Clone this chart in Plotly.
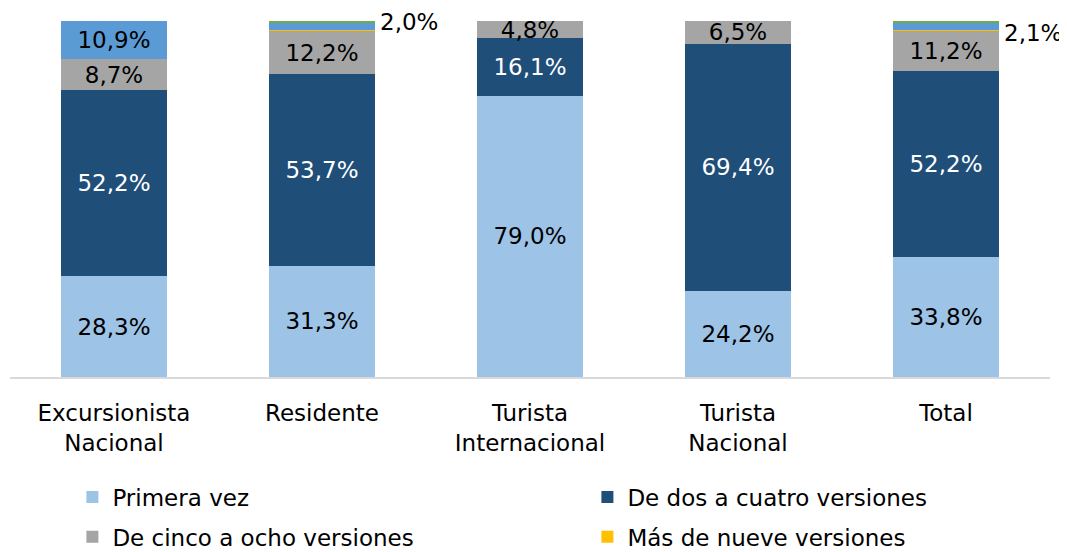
import plotly.graph_objects as go

categories = ["Excursionista<br>Nacional", "Residente", "Turista<br>Internacional", "Turista<br>Nacional", "Total"]
primera_vez = [28.3, 31.3, 79.0, 24.2, 33.8]
dos_a_cuatro = [52.2, 53.7, 16.1, 69.4, 52.2]
cinco_a_ocho = [8.7, 12.2, 4.8, 6.5, 11.2]
mas_de_nueve = [0.0, 0.3, 0.0, 0.0, 0.2]
otra_azul = [10.9, 2.0, 0.0, 0.0, 2.1]
otra_verde = [0.0, 0.5, 0.0, 0.0, 0.5]

FONT = "DejaVu Sans"
FS = 23

def fmt(v):
    return f"{v:.1f}".replace(".", ",") + "%"

def labels(vals, minv=3.0):
    return [fmt(v) if v >= minv else "" for v in vals]

fig = go.Figure()
series = [
    ("Primera vez", primera_vez, "#9DC3E6", "black", True, labels(primera_vez), "legend"),
    ("De dos a cuatro versiones", dos_a_cuatro, "#1F4E79", "white", True, labels(dos_a_cuatro), "legend"),
    ("De cinco a ocho versiones", cinco_a_ocho, "#A5A5A5", "black", True, labels(cinco_a_ocho), "legend2"),
    ("Más de nueve versiones", mas_de_nueve, "#FFC000", "black", True, labels(mas_de_nueve), "legend2"),
    ("Otras versiones", otra_azul, "#5B9BD5", "black", False, labels(otra_azul, 5.0), "legend"),
    ("No sabe", otra_verde, "#70AD47", "black", False, labels(otra_verde), "legend"),
]
for name, vals, color, tcol, show, txt, leg in series:
    fig.add_trace(go.Bar(
        x=categories, y=vals, name=name, marker_color=color,
        marker_line_width=0, showlegend=show, legend=leg,
        text=txt, textposition="inside", insidetextanchor="middle",
        textangle=0, constraintext="none",
        textfont=dict(family=FONT, size=FS, color=tcol),
        hoverinfo="skip",
    ))

# outside labels for the small medium-blue segments
totals = [a + b + c + d + e + f for a, b, c, d, e, f in zip(primera_vez, dos_a_cuatro, cinco_a_ocho, mas_de_nueve, otra_azul, otra_verde)]
for i, v in enumerate(otra_azul):
    if 0 < v < 5.0:
        fig.add_annotation(x=categories[i], y=totals[i], text=fmt(v), showarrow=False,
                           xanchor="left", yanchor="middle",
                           xshift=56, yshift=-1 if i == 1 else -12,
                           font=dict(family=FONT, size=FS, color="black"))

leg_common = dict(orientation="h", xanchor="left", yanchor="middle", x=0.06,
                  traceorder="normal", entrywidth=470, entrywidthmode="pixels",
                  font=dict(family=FONT, size=FS, color="black"), itemclick=False,
                  bgcolor="rgba(0,0,0,0)")

fig.update_layout(
    width=1059, height=544,
    margin=dict(l=2, r=17, t=13, b=175, autoexpand=False),
    barmode="stack", bargap=0.495,
    plot_bgcolor="white", paper_bgcolor="white",
    font=dict(family=FONT, size=FS, color="black"),
    xaxis=dict(showline=True, linecolor="#D9D9D9", linewidth=2, ticks="",
               range=[-0.5, len(categories) - 0.5], autorange=False,
               tickfont=dict(family=FONT, size=FS, color="black"), ticklabelstandoff=14),
    yaxis=dict(range=[0, 100], visible=False),
    legend=dict(y=-0.337, **leg_common),
    legend2=dict(y=-0.449, **leg_common),
    showlegend=True,
)
fig.write_html("out.html")
